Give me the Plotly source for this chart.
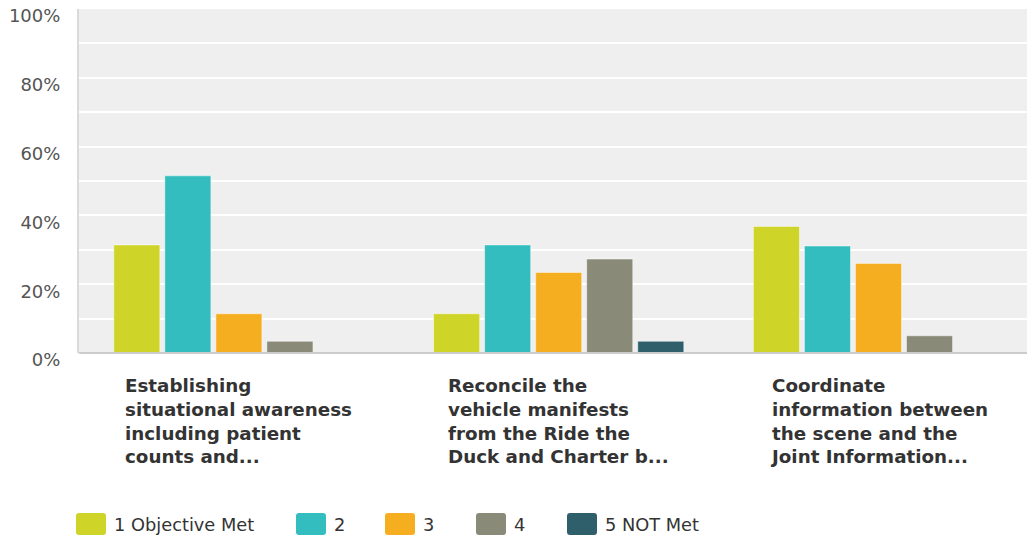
import plotly.graph_objects as go

# Survey results: share of responses per rating, for each objective
categories = [
    "Establishing<br>situational awareness<br>including patient<br>counts and...",
    "Reconcile the<br>vehicle manifests<br>from the Ride the<br>Duck and Charter b...",
    "Coordinate<br>information between<br>the scene and the<br>Joint Information...",
]
series_names = ["1 Objective Met", "2", "3", "4", "5 NOT Met"]
rating_1 = [31.4, 11.4, 36.8]
rating_2 = [51.5, 31.4, 31.1]
rating_3 = [11.4, 23.4, 26.0]
rating_4 = [3.4, 27.3, 5.0]
rating_5 = [0.0, 3.4, 0.0]
series_values = [rating_1, rating_2, rating_3, rating_4, rating_5]
colors = ["#CFD428", "#33BDBE", "#F6AE21", "#8A8A78", "#2E5F6B"]
y_ticks = [0, 10, 20, 30, 40, 50, 60, 70, 80, 90, 100]
y_ticktext = ["0%", "", "20%", "", "40%", "", "60%", "", "80%", "", "100%"]

W, H = 1027, 537
L, T = 79, 8.5
PLOT_W, PLOT_H = W - L, 345.0
GROUP_PX = 319.8

FONT = "DejaVu Sans, Liberation Sans, Arial, sans-serif"


def px_x(p):
    return (p - L) / PLOT_W


def px_y(p):
    return (T + PLOT_H - p) / PLOT_H


fig = go.Figure()
xs = list(range(len(categories)))
for name, vals, col in zip(series_names, series_values, colors):
    fig.add_trace(go.Bar(
        x=xs, y=vals, name=name, showlegend=False,
        marker=dict(color=col, line=dict(color="rgba(255,255,255,0.45)", width=1)),
        hovertemplate="%{y:.1f}%<extra>" + name + "</extra>",
    ))

x_right = -0.5 + PLOT_W / GROUP_PX

annotations = []
for i, text in enumerate(categories):
    annotations.append(dict(
        x=i, xref="x", y=px_y(374), yref="paper",
        text="<b>" + text + "</b>", showarrow=False,
        xanchor="center", yanchor="top", align="left",
        font=dict(family=FONT, size=18.3, color="#333333"),
    ))

# Legend drawn as rounded swatches with labels
legend_swatch_left = [76, 296, 385, 476, 567]
shapes = []
for name, col, sx in zip(series_names, colors, legend_swatch_left):
    x0, x1 = px_x(sx), px_x(sx + 30)
    y0, y1 = px_y(536), px_y(514)
    r = 3 / PLOT_W
    ry = 3 / PLOT_H
    path = (
        f"M {x0 + r},{y1} L {x1 - r},{y1} Q {x1},{y1} {x1},{y1 - ry} "
        f"L {x1},{y0 + ry} Q {x1},{y0} {x1 - r},{y0} "
        f"L {x0 + r},{y0} Q {x0},{y0} {x0},{y0 + ry} "
        f"L {x0},{y1 - ry} Q {x0},{y1} {x0 + r},{y1} Z"
    )
    shapes.append(dict(type="path", path=path, xref="paper", yref="paper",
                       fillcolor=col, line=dict(width=0)))
    annotations.append(dict(
        x=px_x(sx + 36), xref="paper", y=px_y(525), yref="paper",
        text=name, showarrow=False, xanchor="left", yanchor="middle",
        font=dict(family=FONT, size=17.8, color="#333333"),
    ))

fig.update_layout(
    width=W, height=H,
    margin=dict(l=L, r=0, t=T, b=H - T - PLOT_H, pad=0),
    paper_bgcolor="white", plot_bgcolor="#EFEFEF",
    barmode="group", bargap=0.202, bargroupgap=0.098,
    xaxis=dict(range=[-0.5, x_right], showticklabels=False, showgrid=False,
               zeroline=False, showline=False, fixedrange=True),
    yaxis=dict(range=[0, 100], tickvals=y_ticks, ticktext=y_ticktext,
               gridcolor="white", gridwidth=2, zeroline=False,
               showline=True, linecolor="#DADADA", linewidth=2,
               ticks="", ticklabelstandoff=13, ticklabelshift=7,
               tickfont=dict(family=FONT, size=18, color="#555555"),
               fixedrange=True),
    shapes=shapes + [dict(type="line", xref="paper", yref="paper",
                          x0=0, x1=1, y0=0, y1=0,
                          line=dict(color="#CCCCCC", width=2))],
    annotations=annotations,
    showlegend=False,
)

fig.write_html("out.html")
